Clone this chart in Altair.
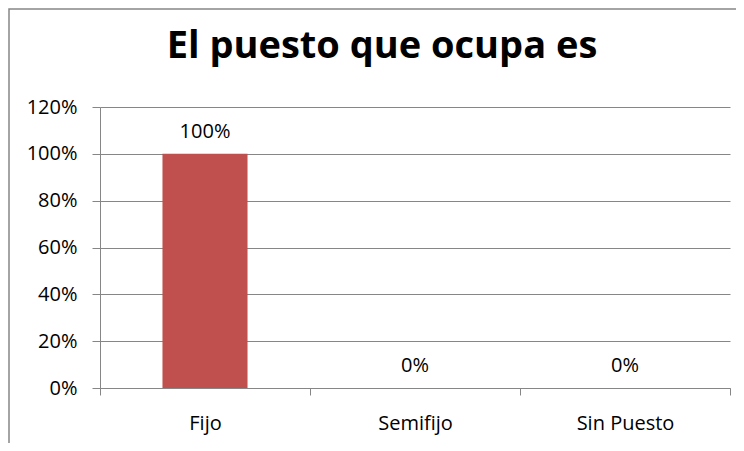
import altair as alt
import pandas as pd

categories = ["Fijo", "Semifijo", "Sin Puesto"]
values = [1.0, 0.0, 0.0]
y_ticks = [0, 0.2, 0.4, 0.6, 0.8, 1.0, 1.2]
title_text = "El puesto que ocupa es"

df = pd.DataFrame({"cat": categories, "val": values})

FONT = "Open Sans"
GRAY = "#868686"

x_enc = alt.X("cat:N", sort=categories, title=None,
              scale=alt.Scale(paddingInner=0, paddingOuter=0),
              axis=alt.Axis(labelAngle=0, labelFont=FONT, labelFontSize=20, labelColor="#000000",
                            labelBaseline="alphabetic", labelPadding=34, tickSize=7,
                            tickBand="extent", tickColor=GRAY, domainColor=GRAY, grid=False))
y_enc = alt.Y("val:Q", title=None,
              scale=alt.Scale(domain=[0, 1.2], nice=False),
              axis=alt.Axis(values=y_ticks, format=".0%", labelFont=FONT, labelFontSize=20,
                            labelColor="#000000", labelPadding=15, tickSize=8, tickColor=GRAY,
                            domainColor=GRAY, gridColor=GRAY, grid=True))

base = alt.Chart(df)
bars = base.mark_bar(color="#C0504D", width=alt.RelativeBandSize(0.405)).encode(x=x_enc, y=y_enc)
labels = base.mark_text(font=FONT, fontSize=20, color="#000000", baseline="alphabetic", dy=-16).encode(
    x=alt.X("cat:N", sort=categories), y="val:Q", text=alt.Text("val:Q", format=".0%"))

deco = alt.Chart(alt.Data(values=[{}]))
title = deco.mark_text(font=FONT, fontSize=38, fontWeight="bold", color="#000000",
                       baseline="alphabetic", align="center").encode(
    x=alt.value(282), y=alt.value(-49), text=alt.value(title_text))
border = deco.mark_rect(fill="transparent", stroke=GRAY, strokeWidth=1.5).encode(
    x=alt.value(-91), x2=alt.value(800), y=alt.value(-98), y2=alt.value(600))

chart = alt.layer(border, bars, labels, title).properties(
    width=630, height=281,
    autosize=alt.AutoSizeParams(type="none"),
    padding={"left": 92, "top": 99, "right": 6, "bottom": 55},
).configure_view(stroke="transparent")

chart.save("out.html", embed_options={"renderer": "svg", "actions": False})
